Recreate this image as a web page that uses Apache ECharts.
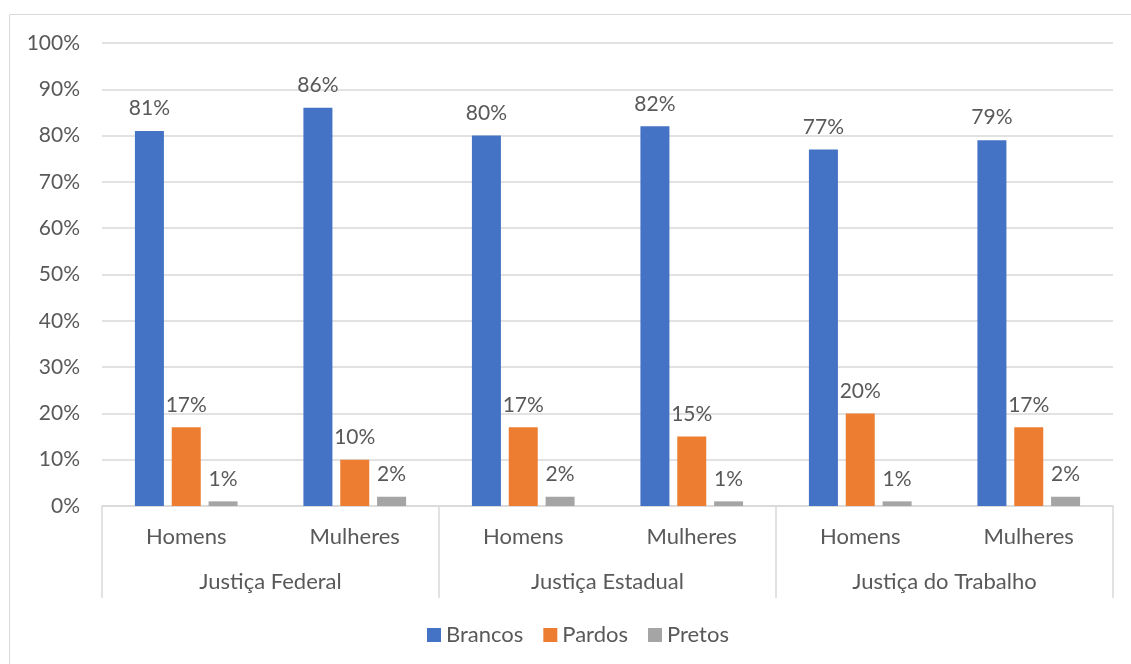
<!DOCTYPE html>
<html>
<head>
<meta charset="utf-8">
<script src="https://cdn.jsdelivr.net/npm/echarts@6/dist/echarts.min.js"></script>
<style>
  html, body { margin: 0; padding: 0; background: #fff; }
  #chart { width: 1131px; height: 664px; }
</style>
</head>
<body>
<div id="chart"></div>
<script>
// Subgroups (sex) and their parent groups (branch of justice)
const categories = ['Homens', 'Mulheres', 'Homens', 'Mulheres', 'Homens', 'Mulheres'];
const groups = ['Justiça Federal', 'Justiça Estadual', 'Justiça do Trabalho'];
const seriesNames = ['Brancos', 'Pardos', 'Pretos'];
const brancos = [81, 86, 80, 82, 77, 79];
const pardos = [17, 10, 17, 15, 20, 17];
const pretos = [1, 2, 2, 1, 1, 2];
const colors = ['#4472C4', '#ED7D31', '#A5A5A5'];

const FONT = 'Lato';
const TXT = '#595959';
const LINE = '#d9d9d9';

const chart = echarts.init(document.getElementById('chart'), null, { renderer: 'canvas' });

function barSeries(name, data, color) {
  return {
    name: name,
    type: 'bar',
    xAxisIndex: 0,
    data: data,
    barWidth: 29,
    barGap: '27%',
    itemStyle: { color: color },
    label: {
      show: true,
      position: 'top',
      distance: 12,
      formatter: '{c}%',
      color: TXT,
      fontFamily: FONT,
      fontSize: 21
    }
  };
}

chart.setOption({
  animation: false,
  textStyle: { fontFamily: FONT },
  graphic: [{
    type: 'rect',
    shape: { x: 9.5, y: 14.5, width: 1130, height: 660 },
    style: { fill: 'none', stroke: LINE, lineWidth: 1 },
    silent: true
  }],
  grid: { left: 102, right: 18, top: 43, bottom: 158, containLabel: false },
  legend: {
    bottom: 13,
    left: 422,
    itemWidth: 14,
    itemHeight: 14,
    itemGap: 20,
    icon: 'rect',
    textStyle: { color: TXT, fontFamily: FONT, fontSize: 22 },
    data: seriesNames
  },
  xAxis: [{
    type: 'category',
    data: categories,
    axisLine: { show: true, lineStyle: { color: LINE, width: 1.5 } },
    axisTick: { show: false },
    axisLabel: { color: TXT, fontFamily: FONT, fontSize: 22, margin: 20, interval: 0 }
  }, {
    type: 'category',
    data: groups,
    position: 'bottom',
    axisLine: { show: false },
    axisTick: { show: true, length: 92, lineStyle: { color: LINE, width: 1.5 } },
    axisLabel: { color: TXT, fontFamily: FONT, fontSize: 22, margin: 65, interval: 0 },
    splitLine: { show: false }
  }],
  yAxis: {
    type: 'value',
    min: 0,
    max: 100,
    interval: 10,
    axisLine: { show: false },
    axisTick: { show: false },
    axisLabel: { formatter: '{value}%', color: TXT, fontFamily: FONT, fontSize: 21, margin: 22 },
    splitLine: { lineStyle: { color: LINE, width: 1.5 } }
  },
  series: [
    barSeries(seriesNames[0], brancos, colors[0]),
    barSeries(seriesNames[1], pardos, colors[1]),
    barSeries(seriesNames[2], pretos, colors[2])
  ]
});
</script>
</body>
</html>
